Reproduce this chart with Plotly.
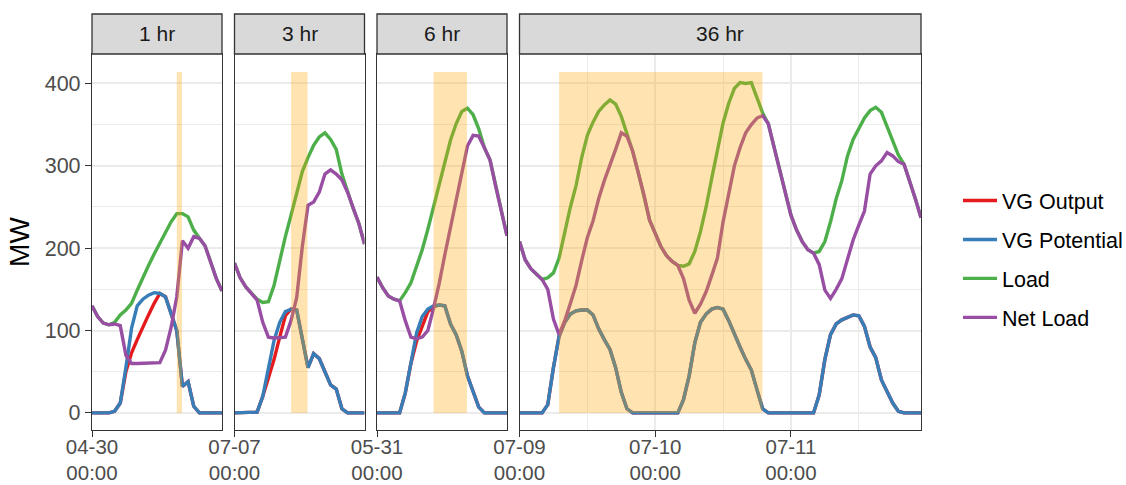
import pandas as pd
import plotly.graph_objects as go

# ---------------- data (hourly) ----------------
panel_labels = ["1 hr", "3 hr", "6 hr", "36 hr"]
panel_starts = ["2018-04-30 00:00", "2018-07-07 00:00", "2018-05-31 00:00", "2018-07-09 00:00"]
panel_hours = [24, 24, 24, 72]

# shaded forecast window (hours after panel start)
window_start_h = [15.0, 10.0, 10.0, 7.0]
window_end_h = [15.92, 12.92, 15.92, 42.95]
window_top = 414

vg_output_1 = [0, 0, 0, 0, 2, 12, 50, 73, 89, 105, 119, 133, 145, 141, 120, 100, 32, 38, 8, 0, 0, 0, 0, 0]
vg_potential_1 = [0, 0, 0, 0, 2, 12, 55, 103, 130, 138, 143, 146, 145, 141, 120, 100, 32, 38, 8, 0, 0, 0, 0, 0]
load_1 = [130, 117, 109, 107, 110, 119, 125, 133, 149, 165, 179, 193, 206, 218, 232, 242, 242, 238, 222, 212, 203, 183, 163, 148]
net_load_1 = [130, 117, 109, 107, 108, 106, 70, 60, 60, 60, 60, 60, 61, 76, 104, 141, 209, 200, 214, 212, 203, 183, 163, 148]

vg_output_2 = [0, 0, 0, 0, 1, 20, 42, 65, 92, 118, 126, 125, 90, 55, 72, 66, 50, 34, 29, 5, 0, 0, 0, 0]
vg_potential_2 = [0, 0, 0, 0, 1, 20, 55, 88, 110, 123, 126, 125, 90, 55, 72, 66, 50, 34, 29, 5, 0, 0, 0, 0]
load_2 = [182, 164, 153, 145, 138, 134, 135, 155, 186, 214, 240, 268, 293, 310, 325, 335, 340, 332, 320, 290, 268, 248, 230, 205]
net_load_2 = [182, 164, 153, 145, 137, 110, 92, 91, 91, 92, 112, 140, 202, 252, 256, 268, 290, 295, 290, 283, 268, 248, 230, 205]

vg_output_3 = [0, 0, 0, 0, 0, 24, 60, 87, 106, 123, 129, 131, 130, 108, 95, 75, 45, 25, 7, 0, 0, 0, 0, 0]
vg_potential_3 = [0, 0, 0, 0, 0, 24, 62, 97, 117, 126, 130, 131, 130, 108, 95, 75, 45, 25, 7, 0, 0, 0, 0, 0]
load_3 = [165, 152, 142, 138, 136, 146, 158, 177, 198, 223, 250, 277, 305, 331, 351, 366, 370, 362, 345, 322, 307, 275, 243, 215]
net_load_3 = [165, 152, 142, 138, 136, 112, 92, 90, 92, 100, 127, 157, 192, 224, 256, 291, 324, 337, 336, 322, 307, 275, 243, 215]

vg_output_4 = [0, 0, 0, 0, 0, 10, 55, 93, 110, 120, 124, 125, 125, 119, 102, 89, 77, 55, 25, 5,
               0, 0, 0, 0, 0, 0, 0, 0, 0, 16, 45, 85, 110, 120, 126, 128, 126, 112, 95, 80,
               65, 52, 28, 5, 0, 0, 0, 0, 0, 0, 0, 0, 0, 22, 65, 95, 108, 113, 116, 119,
               118, 105, 80, 67, 40, 26, 12, 2, 0, 0, 0, 0]
vg_potential_4 = [0, 0, 0, 0, 0, 10, 55, 93, 110, 120, 124, 125, 125, 119, 102, 89, 77, 55, 25, 5,
                  0, 0, 0, 0, 0, 0, 0, 0, 0, 16, 45, 85, 110, 120, 126, 128, 126, 112, 95, 80,
                  65, 52, 28, 5, 0, 0, 0, 0, 0, 0, 0, 0, 0, 22, 65, 95, 108, 113, 116, 119,
                  118, 105, 80, 67, 40, 26, 12, 2, 0, 0, 0, 0]
load_4 = [208, 186, 175, 168, 162, 164, 170, 188, 220, 250, 276, 310, 337, 353, 366, 374, 380, 375, 360, 339,
          318, 292, 265, 234, 218, 202, 191, 184, 179, 178, 181, 196, 220, 250, 285, 320, 352, 376, 394, 401,
          400, 401, 382, 364, 351, 323, 296, 265, 240, 222, 208, 198, 194, 196, 208, 232, 260, 282, 312, 332,
          346, 358, 367, 371, 365, 347, 330, 313, 302, 282, 260, 237]
net_load_4 = [208, 186, 175, 168, 162, 150, 114, 95, 112, 133, 155, 185, 213, 233, 260, 282, 300, 320, 340, 336,
              318, 292, 265, 234, 218, 202, 191, 184, 179, 163, 137, 121, 132, 147, 167, 188, 232, 267, 300, 322,
              340, 350, 358, 361, 351, 323, 296, 265, 240, 222, 208, 198, 194, 180, 149, 139, 150, 163, 187, 210,
              228, 245, 290, 300, 306, 316, 312, 305, 302, 282, 260, 237]

vg_output = [vg_output_1, vg_output_2, vg_output_3, vg_output_4]
vg_potential = [vg_potential_1, vg_potential_2, vg_potential_3, vg_potential_4]
load = [load_1, load_2, load_3, load_4]
net_load = [net_load_1, net_load_2, net_load_3, net_load_4]

series_names = ["VG Output", "VG Potential", "Load", "Net Load"]
series_colors = ["#E41A1C", "#377EB8", "#4DAF4A", "#984EA3"]

y_ticks = [0, 100, 200, 300, 400]

# ---------------- layout geometry (pixels) ----------------
W, H = 1126, 485
plot_left, plot_right, plot_top, plot_bottom = 92, 921, 54, 430
panel_px = [(92, 222), (234.5, 364.5), (377, 507), (519.5, 921)]
strip_top_px = 14

pw = plot_right - plot_left
ph = plot_bottom - plot_top

def dom(p):
    return [(p[0] - plot_left) / pw, (p[1] - plot_left) / pw]

FONT = "Arial, 'Liberation Sans', Helvetica, sans-serif"
GRID = "#EBEBEB"
BORDER = "#333333"
Y_TICK_FONT = dict(size=21.5, color="#4D4D4D", family=FONT)
X_TICK_FONT = dict(size=20.5, color="#4D4D4D", family=FONT)

fig = go.Figure()
layout = dict(
    width=W, height=H,
    margin=dict(l=plot_left, r=W - plot_right, t=plot_top, b=H - plot_bottom, autoexpand=False),
    paper_bgcolor="white", plot_bgcolor="white",
    font=dict(family=FONT, size=20, color="#4D4D4D"),
    showlegend=True,
    legend=dict(
        x=(958 - plot_left) / pw, xanchor="left",
        y=(plot_bottom - 259) / ph, yanchor="middle",
        font=dict(size=21.5, color="black", family=FONT),
        tracegroupgap=8, itemwidth=34, bgcolor="rgba(0,0,0,0)",
    ),
)

shapes = []
annotations = []
series_all = [vg_output, vg_potential, load, net_load]

for i in range(4):
    idx = "" if i == 0 else str(i + 1)
    xname, yname = "x" + idx, "y" + idx
    times = pd.date_range(panel_starts[i], periods=panel_hours[i], freq="h")
    t0 = pd.Timestamp(panel_starts[i])
    for s in range(4):
        fig.add_trace(go.Scatter(
            x=times, y=series_all[s][i], mode="lines",
            name=series_names[s], legendgroup=series_names[s],
            showlegend=(i == 0),
            line=dict(color=series_colors[s], width=3.4),
            xaxis=xname, yaxis=yname, hoverinfo="skip",
        ))
    x_axis = dict(
        domain=dom(panel_px[i]), anchor=yname, type="date",
        range=[t0, times[-1]],
        tick0=t0.normalize(), dtick=86400000, tickformat="%m-%d<br>%H:%M",
        ticks="outside", ticklen=6, tickwidth=1.3, tickcolor=BORDER,
        ticklabelstandoff=-8,
        tickfont=X_TICK_FONT,
        showgrid=True, gridcolor=GRID, gridwidth=1.5,
        showline=True, mirror=True, linecolor=BORDER, linewidth=1.3,
        zeroline=False, automargin=False, fixedrange=True,
    )
    if i == 3:
        x_axis["minor"] = dict(dtick=43200000, tick0=t0.normalize(), showgrid=True,
                               gridcolor=GRID, gridwidth=0.8)
    y_axis = dict(
        domain=[0, 1], anchor=xname, range=[-20.75, 435.75],
        tickvals=y_ticks,
        showgrid=True, gridcolor=GRID, gridwidth=1.5,
        minor=dict(dtick=50, tick0=0, showgrid=True, gridcolor=GRID, gridwidth=0.8),
        showline=True, mirror=True, linecolor=BORDER, linewidth=1.3,
        zeroline=False, automargin=False, fixedrange=True,
    )
    if i == 0:
        y_axis.update(ticks="outside", ticklen=6, tickwidth=1.3, tickcolor=BORDER,
                      tickfont=Y_TICK_FONT,
                      title=dict(text="MW", font=dict(size=28, color="black", family=FONT),
                                 standoff=6))
    else:
        y_axis.update(matches="y", showticklabels=False, ticks="")
    layout["xaxis" + idx] = x_axis
    layout["yaxis" + idx] = y_axis

    # shaded window (drawn above the lines, semi transparent)
    shapes.append(dict(
        type="rect", xref=xname, yref=yname,
        x0=t0 + pd.Timedelta(hours=window_start_h[i]),
        x1=t0 + pd.Timedelta(hours=window_end_h[i]),
        y0=0, y1=window_top,
        fillcolor="rgba(255,165,0,0.3)", line=dict(width=0), layer="above",
    ))
    # facet strip
    strip_y0 = 1.0
    strip_y1 = (plot_bottom - strip_top_px) / ph
    shapes.append(dict(
        type="rect", xref=xname + " domain", yref="paper",
        x0=0, x1=1, y0=strip_y0, y1=strip_y1,
        fillcolor="#D9D9D9", line=dict(color=BORDER, width=1.3), layer="above",
    ))
    annotations.append(dict(
        text=panel_labels[i], xref=xname + " domain", yref="paper",
        x=0.5, y=(strip_y0 + strip_y1) / 2, xanchor="center", yanchor="middle",
        showarrow=False, font=dict(size=21, color="#1A1A1A", family=FONT),
    ))

layout["shapes"] = shapes
layout["annotations"] = annotations
fig.update_layout(**layout)
fig.write_html("out.html")
